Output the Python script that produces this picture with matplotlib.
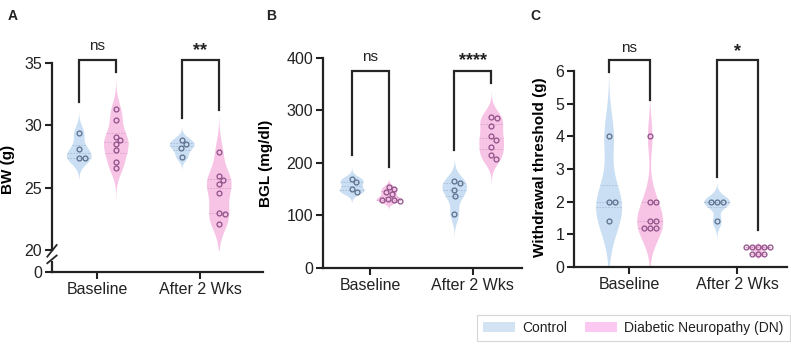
import numpy as np
import matplotlib.pyplot as plt
from matplotlib.patches import Patch
from matplotlib.transforms import blended_transform_factory

plt.rcParams['font.family'] = ['Liberation Sans', 'DejaVu Sans']
plt.rcParams['text.color'] = '#222222'
plt.rcParams['axes.edgecolor'] = '#222222'
plt.rcParams['xtick.color'] = '#222222'
plt.rcParams['ytick.color'] = '#222222'

# ---- data ----
groups = ['Baseline', 'After 2 Wks']
series = ['Control', 'Diabetic Neuropathy (DN)']

bw_ctrl = [[29.4, 28.1, 27.4, 27.4], [28.85, 28.5, 28.2, 27.5]]
bw_dn = [[31.3, 30.4, 29.1, 28.8, 28.5, 28.0, 27.1, 26.6],
         [27.9, 25.9, 25.6, 25.3, 24.6, 23.0, 22.9, 22.1]]
bw_sig = ['ns', '**']

bgl_ctrl = [[170, 163, 150, 145], [165, 162, 148, 137, 103]]
bgl_dn = [[155, 150, 145, 140, 132, 130, 130, 128],
          [288, 285, 270, 251, 244, 230, 215, 208]]
bgl_sig = ['ns', '****']

wt_ctrl = [[4, 2, 2, 1.4], [2, 2, 2, 1.4]]
wt_dn = [[4, 2, 2, 1.4, 1.4, 1.2, 1.2, 1.2],
         [0.6, 0.6, 0.6, 0.6, 0.6, 0.4, 0.4, 0.4]]
wt_sig = ['ns', '*']

c_fill = '#cadff3'
d_fill = '#f7c4e6'
c_pt = '#5b6f8d'
d_pt = '#8e4f86'
ink = '#262626'

fig = plt.figure(figsize=(7.91, 3.45), dpi=100)


def violin(ax, data, pos, color, lc, half=0.12, bwf=0.8):
    d = np.asarray(data, float)
    bw = bwf * d.std(ddof=1) * len(d) ** -0.2
    y = np.linspace(d.min() - 3 * bw, d.max() + 3 * bw, 400)
    dens = np.exp(-0.5 * ((y[:, None] - d[None, :]) / bw) ** 2).sum(1)
    w = dens / dens.max() * half
    ax.fill_betweenx(y, pos - w, pos + w, color=color, lw=0, zorder=1)
    for q in np.percentile(d, [25, 50, 75]):
        wq = np.interp(q, y, w)
        ax.plot([pos - wq, pos + wq], [q, q], ls=(0, (2, 1.5)), lw=0.6,
                color=lc, alpha=0.3, zorder=2)


def swarm(ax, data, pos, ec, gap=5.8):
    d = np.asarray(data, float)
    pts = ax.transData.transform(np.column_stack([np.full(len(d), pos), d]))
    steps = np.arange(1, 60) * 0.5
    cands = np.concatenate([[0], np.column_stack([steps, -steps]).ravel()])
    placed = []
    xs = np.zeros(len(d))
    for i in np.argsort(-d):
        py = pts[i, 1]
        for c in cands:
            if all((c - px) ** 2 + (py - qy) ** 2 >= gap ** 2 for px, qy in placed):
                break
        placed.append((c, py))
        xs[i] = c
    xd = ax.transData.inverted().transform(
        np.column_stack([pts[:, 0] + xs, pts[:, 1]]))[:, 0]
    ax.plot(xd, d, 'o', ms=3.5, mfc='none', mec=ec, mew=0.9, ls='none', zorder=3)


def bracket(ax, x1, x2, ytop, y1, y2, label, ly):
    ax.plot([x1, x1, x2, x2], [y1, ytop, ytop, y2], color=ink, lw=1.6,
            clip_on=False, solid_joinstyle='miter', zorder=4)
    ax.text((x1 + x2) / 2, ly, label, ha='center', va='center',
            fontsize=11 if label == 'ns' else 13,
            fontweight='normal' if label == 'ns' else 'bold', clip_on=False)


def panel(ax, ctrl, dn, off, sig, brk, letter, ylabel, lab_xy):
    for i in range(2):
        violin(ax, ctrl[i], i - off, c_fill, c_pt)
        violin(ax, dn[i], i + off, d_fill, d_pt)
    for i in range(2):
        swarm(ax, ctrl[i], i - off, c_pt)
        swarm(ax, dn[i], i + off, d_pt)
    for i in range(2):
        ytop, y1, y2, ly = brk[i]
        bracket(ax, i - off, i + off, ytop, y1, y2, sig[i], ly)
    ax.set_xticks([0, 1])
    ax.set_xticklabels(groups)
    ax.spines['top'].set_visible(False)
    ax.spines['right'].set_visible(False)
    ax.spines['left'].set_linewidth(1.6)
    ax.spines['bottom'].set_linewidth(1.6)
    ax.tick_params(width=1.5, length=5, labelsize=11.5, pad=2)
    ax.set_ylabel(ylabel, fontsize=11, fontweight='bold')
    ax.yaxis.set_label_coords(*lab_xy)
    fig.text(letter[1], letter[2], letter[0], fontsize=10, fontweight='bold',
             va='center', ha='left')


# ---- A: body weight with broken axis ----
k = 0.088
def fwd(y):
    y = np.asarray(y, float)
    return np.where(y < 20, y * k, y - 20 + 20 * k)
def inv(u):
    u = np.asarray(u, float)
    return np.where(u < 20 * k, u / k, u + 20 - 20 * k)

axA = fig.add_axes([0.0657, 0.2116, 0.2668, 0.6058])
axA.set_yscale('function', functions=(fwd, inv))
axA.set_ylim(0, 35)
axA.set_xlim(-0.44, 1.61)
axA.set_yticks([0, 20, 25, 30, 35])
axA.set_yticklabels(['0', '20', '25', '30', '35'])
panel(axA, bw_ctrl, bw_dn, 0.18, bw_sig,
      [(35.25, 31.85, 34.3, 36.35), (35.25, 30.55, 31.2, 36.0)],
      ('A', 0.010, 0.955), 'BW (g)', (-0.175, 0.49))
axA.spines['left'].set_bounds(20, 35)
tr = blended_transform_factory(axA.transAxes, axA.transData)
axA.plot([0, 0], [0, 9], transform=tr, color=ink, lw=1.6, clip_on=False)
axA.plot([-0.022, 0.022], [14, 20.4], transform=tr, color=ink, lw=1.3, clip_on=False)
axA.plot([-0.022, 0.022], [8, 15], transform=tr, color=ink, lw=1.3, clip_on=False)

# ---- B: blood glucose ----
axB = fig.add_axes([0.4083, 0.2232, 0.2516, 0.6087])
axB.set_ylim(0, 400)
axB.set_xlim(-0.46, 1.48)
axB.set_yticks([0, 100, 200, 300, 400])
panel(axB, bgl_ctrl, bgl_dn, 0.18, bgl_sig,
      [(375, 215, 192, 402), (375, 225, 352, 396)],
      ('B', 0.337, 0.955), 'BGL (mg/dl)', (-0.25, 0.5))

# ---- C: withdrawal threshold ----
axC = fig.add_axes([0.7257, 0.2261, 0.2693, 0.568])
axC.set_ylim(0, 6)
axC.set_xlim(-0.51, 1.46)
axC.set_yticks(range(7))
panel(axC, wt_ctrl, wt_dn, 0.19, wt_sig,
      [(6.34, 5.97, 5.11, 6.72), (6.34, 2.76, 1.13, 6.6)],
      ('C', 0.671, 0.955), 'Withdrawal threshold (g)', (-0.125, 0.51))

handles = [Patch(facecolor='#d3e3f4', edgecolor='none'),
           Patch(facecolor='#fbc8f2', edgecolor='none')]
leg = fig.legend(handles, series, loc='center', ncol=2,
                 bbox_to_anchor=((482 + 785) / 2 / 791, 1 - 328 / 345),
                 fontsize=10, frameon=True, fancybox=False, edgecolor='#cccccc',
                 handlelength=2.3, handleheight=0.75, handletextpad=0.5,
                 columnspacing=1.3, borderpad=0.45)
leg.get_frame().set_linewidth(0.8)

fig.savefig('out.png', dpi=100)
